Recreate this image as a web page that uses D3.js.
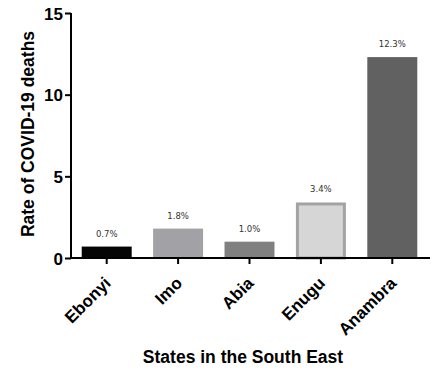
<!DOCTYPE html>
<html>
<head>
<meta charset="utf-8">
<script src="https://cdn.jsdelivr.net/npm/d3@7"></script>
<style>
  body { margin: 0; background: #fff; }
  text { font-family: "Liberation Sans", Arial, sans-serif; }
</style>
</head>
<body>
<div id="chart"></div>
<script>
// chart data
var states = ["Ebonyi", "Imo", "Abia", "Enugu", "Anambra"];
var rates = [0.7, 1.8, 1.0, 3.4, 12.3];
var rateLabels = ["0.7%", "1.8%", "1.0%", "3.4%", "12.3%"];
var yTicks = [0, 5, 10, 15];
var fills = ["#050505", "#a2a1a6", "#808080", "#d6d6d6", "#616161"];
var strokes = ["none", "none", "none", "#a3a3a3", "none"];

var svgWidth = 441;
var svgHeight = 372;

var margin = { top: 13, right: 13, bottom: 114, left: 71 };
var chartWidth = svgWidth - margin.left - margin.right;
var chartHeight = svgHeight - margin.top - margin.bottom;

var svg = d3.select("#chart")
  .append("svg")
  .attr("width", svgWidth)
  .attr("height", svgHeight);

var chartGroup = svg.append("g")
  .attr("transform", `translate(${margin.left}, ${margin.top})`);

var xScale = d3.scaleBand()
  .domain(states)
  .range([0, chartWidth])
  .paddingInner(0.3)
  .paddingOuter(0.15);

var yScale = d3.scaleLinear()
  .domain([0, 15])
  .range([chartHeight, 0]);

// bars
var bars = chartGroup.selectAll(".bar")
  .data(states)
  .enter();

bars.append("rect")
  .attr("x", function (d, i) { return xScale(d) + (strokes[i] === "none" ? 0 : 1.5); })
  .attr("y", function (d, i) { return yScale(rates[i]) + (strokes[i] === "none" ? 0 : 1.5); })
  .attr("width", function (d, i) { return xScale.bandwidth() - (strokes[i] === "none" ? 0 : 3); })
  .attr("height", function (d, i) { return chartHeight - yScale(rates[i]) - (strokes[i] === "none" ? 0 : 1.5); })
  .attr("fill", function (d, i) { return fills[i]; })
  .attr("stroke", function (d, i) { return strokes[i]; })
  .attr("stroke-width", 3);

bars.append("text")
  .attr("x", function (d) { return xScale(d) + xScale.bandwidth() / 2; })
  .attr("y", function (d, i) { return yScale(rates[i]) - 10; })
  .attr("text-anchor", "middle")
  .style("font-family", "'DejaVu Sans', Verdana, sans-serif")
  .style("font-size", "8.5px")
  .style("fill", "#333")
  .text(function (d, i) { return rateLabels[i]; });

// axes
var yAxis = d3.axisLeft(yScale).tickValues(yTicks).tickSize(6).tickPadding(2);
var xAxis = d3.axisBottom(xScale).tickSize(6).tickPadding(4);

var yG = chartGroup.append("g").call(yAxis);
yG.select(".domain").attr("d", `M0,0V${chartHeight + 1}`);
yG.selectAll("text")
  .style("font-size", "17px")
  .style("font-weight", "bold")
  .attr("dy", "0.36em")
  .style("fill", "#000");

var xG = chartGroup.append("g")
  .attr("transform", `translate(0, ${chartHeight})`)
  .call(xAxis);
xG.select(".domain").attr("d", `M-1,0H${chartWidth + 2}`);
xG.selectAll("text")
  .style("font-size", "17px")
  .style("font-weight", "bold")
  .style("fill", "#000")
  .attr("text-anchor", "end")
  .attr("x", 0)
  .attr("y", 0)
  .attr("dy", "0.35em")
  .attr("transform", "translate(1,22) rotate(-45)");

svg.selectAll(".domain, .tick line")
  .attr("stroke", "#000")
  .attr("stroke-width", 2);

// axis titles
chartGroup.append("text")
  .attr("x", 172)
  .attr("y", chartHeight + 105)
  .attr("text-anchor", "middle")
  .style("font-size", "17.5px")
  .style("font-weight", "bold")
  .text("States in the South East");

chartGroup.append("text")
  .attr("transform", "rotate(-90)")
  .attr("x", 0 - 121)
  .attr("y", 0 - 37)
  .attr("text-anchor", "middle")
  .style("font-size", "17.5px")
  .style("font-weight", "bold")
  .text("Rate of COVID-19 deaths");
</script>
</body>
</html>
